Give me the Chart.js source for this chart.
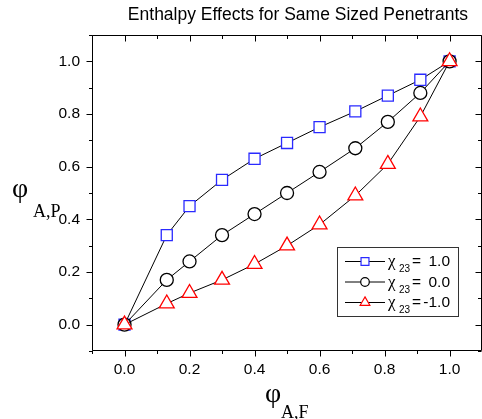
<!DOCTYPE html>
<html><head><meta charset="utf-8">
<script src="https://cdn.jsdelivr.net/npm/chart.js@4/dist/chart.umd.min.js"></script>
<style>html,body{margin:0;padding:0;overflow:hidden;background:#fff;width:482px;height:419px}canvas{display:block}</style>
</head><body><canvas id="c" width="492" height="419"></canvas>
<script>
// ---- data ----
const xValues  = [0, 0.13, 0.2, 0.3, 0.4, 0.5, 0.6, 0.71, 0.81, 0.91, 1.0];
const chiPos   = [0, 0.34, 0.45, 0.55, 0.63, 0.69, 0.75, 0.81, 0.87, 0.93, 1.0];
const chiZero  = [0, 0.17, 0.24, 0.34, 0.42, 0.50, 0.58, 0.67, 0.77, 0.88, 1.0];
const chiNeg   = [0, 0.08, 0.12, 0.17, 0.23, 0.30, 0.38, 0.49, 0.61, 0.79, 1.0];
const seriesValues = ['1.0', '0.0', '-1.0'];
const tickLabels = ['0.0', '0.2', '0.4', '0.6', '0.8', '1.0'];
const titleText = 'Enthalpy Effects for Same Sized Penetrants';

const SANS = '"Liberation Sans", Arial, sans-serif';
const SERIF = '"Liberation Serif", "Times New Roman", serif';

function pts(ys) { return xValues.map((x, i) => ({x: x, y: ys[i]})); }

const styles = [
  {color: '#2a2aff', style: 'rect', r: 7.8, lr: 5.6},
  {color: '#000000', style: 'circle', r: 6.5, lr: 4.3},
  {color: '#ff0000', style: 'triangle', r: 8.6, lr: 5.6}
];
const seriesData = [chiPos, chiZero, chiNeg];

const datasets = seriesData.map((ys, i) => ({
  label: seriesValues[i],
  data: pts(ys),
  order: 2 - i,
  borderColor: '#000',
  borderWidth: 1,
  tension: 0,
  fill: false,
  pointStyle: styles[i].style,
  pointRadius: styles[i].r,
  pointHoverRadius: styles[i].r,
  pointBorderColor: styles[i].color,
  pointBackgroundColor: '#fff',
  pointBorderWidth: 1.3
}));

function labelFor(value) {
  const r = Math.round(value * 10);
  if (r >= 0 && r <= 10 && r % 2 === 0) return tickLabels[r / 2];
  return '';
}

function drawMarker(ctx, style, x, y, r, color) {
  ctx.save();
  ctx.strokeStyle = color; ctx.fillStyle = '#fff'; ctx.lineWidth = 1.2;
  ctx.beginPath();
  if (style === 'rect') {
    const s = r * Math.SQRT1_2;
    ctx.rect(x - s, y - s, 2 * s, 2 * s);
  } else if (style === 'circle') {
    ctx.arc(x, y, r, 0, Math.PI * 2);
  } else {
    ctx.moveTo(x, y - r);
    ctx.lineTo(x + 0.866 * r, y + 0.5 * r);
    ctx.lineTo(x - 0.866 * r, y + 0.5 * r);
    ctx.closePath();
  }
  ctx.fill(); ctx.stroke();
  ctx.restore();
}

const decor = {
  id: 'decor',
  afterDraw(chart) {
    const ctx = chart.ctx;
    const a = chart.chartArea;
    const xs = chart.scales.x, ys = chart.scales.y;
    const L = Math.round(a.left) + 0.5, R = Math.round(a.right) - 0.5;
    const T = Math.round(a.top) + 0.5, B = Math.round(a.bottom) - 0.5;
    ctx.save();
    ctx.strokeStyle = '#000'; ctx.lineWidth = 1;
    ctx.beginPath();
    ctx.rect(L, T, R - L, B - T);
    ctx.stroke();
    // ticks
    ctx.beginPath();
    for (let k = -1; k <= 11; k++) {
      const v = k / 10;
      const len = (k >= 0 && k % 2 === 0) ? 6 : 3.5;
      const px = Math.round(xs.getPixelForValue(v)) + 0.5;
      ctx.moveTo(px, B); ctx.lineTo(px, B + len);
      ctx.moveTo(px, T); ctx.lineTo(px, T + len);
      const py = Math.round(ys.getPixelForValue(v)) + 0.5;
      ctx.moveTo(L, py); ctx.lineTo(L - len, py);
      ctx.moveTo(R, py); ctx.lineTo(R - len, py);
    }
    ctx.stroke();

    // title
    ctx.fillStyle = '#000';
    ctx.font = '17.5px ' + SANS;
    ctx.textAlign = 'right'; ctx.textBaseline = 'alphabetic';
    ctx.fillText(titleText, 468, 20);

    // y axis title
    ctx.textAlign = 'left';
    ctx.font = '28px ' + SERIF;
    ctx.fillText('\u03c6', 12, 197);
    ctx.font = '18px ' + SERIF;
    ctx.fillText('A,P', 33, 217);
    // x axis title
    ctx.font = '28px ' + SERIF;
    ctx.fillText('\u03c6', 265, 402);
    ctx.font = '18px ' + SERIF;
    ctx.fillText('A,F', 281, 418);

    // legend
    const bx = 337.5, by = 247.5, bw = 121, bh = 69;
    ctx.fillStyle = '#fff';
    ctx.fillRect(bx, by, bw, bh);
    ctx.strokeStyle = '#333'; ctx.lineWidth = 1;
    ctx.strokeRect(bx, by, bw, bh);
    const rows = [261, 281.5, 302];
    rows.forEach((ry, i) => {
      ctx.strokeStyle = '#000'; ctx.lineWidth = 1;
      ctx.beginPath(); ctx.moveTo(345, ry + 0.5); ctx.lineTo(385, ry + 0.5); ctx.stroke();
      drawMarker(ctx, styles[i].style, 365, ry + 0.5, styles[i].lr, styles[i].color);
      ctx.fillStyle = '#000';
      ctx.textAlign = 'left';
      ctx.font = '17px ' + SERIF;
      ctx.fillText('\u03c7', 388, ry + 5);
      ctx.font = '10px ' + SANS;
      ctx.fillText('23', 399, ry + 11);
      ctx.font = '15.5px ' + SANS;
      ctx.fillText('=', 412, ry + 5);
      ctx.textAlign = 'right';
      ctx.fillText(seriesValues[i], 450, ry + 5);
    });
    ctx.restore();
  }
};

new Chart(document.getElementById('c'), {
  type: 'line',
  data: {datasets: datasets},
  options: {
    responsive: false,
    animation: false,
    devicePixelRatio: 1,
    layout: {padding: {top: 35, right: 7, left: 0, bottom: 0}},
    plugins: {legend: {display: false}, tooltip: {enabled: false}, title: {display: false}},
    scales: {
      x: {
        type: 'linear', min: -0.1, max: 1.1,
        afterFit(s) { s.height = 68; },
        grid: {display: true, drawOnChartArea: false, drawTicks: true, tickLength: 6, color: 'rgba(0,0,0,0)'},
        border: {display: false},
        ticks: {stepSize: 0.1, autoSkip: false, maxRotation: 0, padding: 3, color: '#000',
          font: {family: SANS, size: 15.5}, callback: (v) => labelFor(v)}
      },
      y: {
        type: 'linear', min: -0.1, max: 1.1,
        afterFit(s) { s.width = 92; },
        grid: {display: true, drawOnChartArea: false, drawTicks: true, tickLength: 6, color: 'rgba(0,0,0,0)'},
        border: {display: false},
        ticks: {stepSize: 0.1, autoSkip: false, padding: 6, color: '#000',
          font: {family: SANS, size: 15.5}, callback: (v) => labelFor(v)}
      }
    }
  },
  plugins: [decor]
});
</script>
</body></html>
